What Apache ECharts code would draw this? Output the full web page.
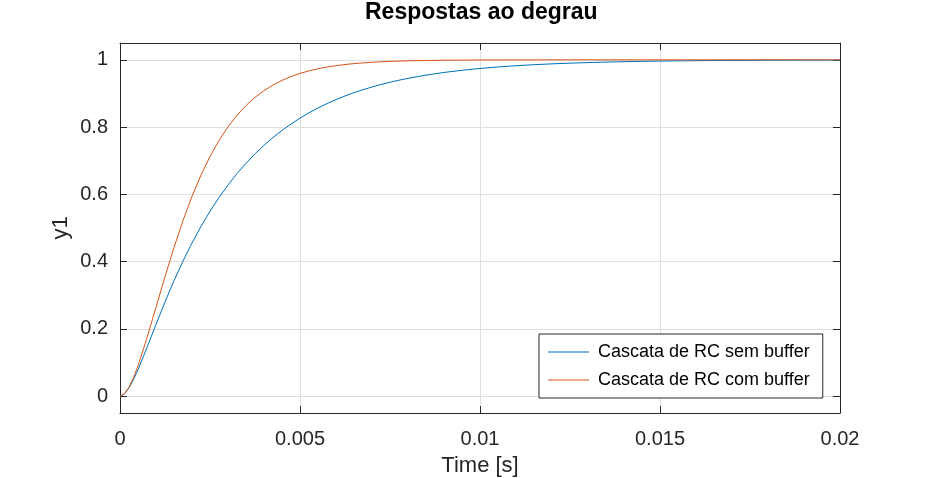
<!DOCTYPE html>
<html>
<head>
<meta charset="utf-8">
<script src="https://cdn.jsdelivr.net/npm/echarts@6/dist/echarts.min.js"></script>
<style>
html,body{margin:0;padding:0;background:#fff;}
#chart{width:928px;height:478px;}
</style>
</head>
<body>
<div id="chart"></div>
<script>
// Time samples [s]
const time = [0, 0.000125, 0.00025, 0.000375, 0.0005, 0.00075, 0.001, 0.00125, 0.0015, 0.00175, 0.002, 0.00225, 0.0025, 0.00275,
  0.003, 0.00325, 0.0035, 0.00375, 0.004, 0.00425, 0.0045, 0.00475, 0.005, 0.00525, 0.0055, 0.00575,
  0.006, 0.00625, 0.0065, 0.00675, 0.007, 0.00725, 0.0075, 0.00775, 0.008,
  0.0085, 0.009, 0.0095, 0.010, 0.0105, 0.011, 0.0115, 0.012, 0.0125, 0.013, 0.0135, 0.014,
  0.0145, 0.015, 0.0155, 0.016, 0.0165, 0.017, 0.0175, 0.018, 0.0185, 0.019, 0.0195, 0.020];
// Cascata de RC sem buffer
const semBuffer = [0, 0.0069, 0.0246, 0.0494, 0.0789, 0.1448, 0.2134, 0.2802, 0.3432, 0.4018, 0.4555, 0.5048, 0.5497, 0.5906,
  0.6279, 0.6617, 0.6925, 0.7205, 0.7460, 0.7691, 0.7901, 0.8092, 0.8266, 0.8424, 0.8568, 0.8698,
  0.8817, 0.8925, 0.9022, 0.9112, 0.9192, 0.9266, 0.9333, 0.9394, 0.9449,
  0.9545, 0.9624, 0.9689, 0.9743, 0.9788, 0.9825, 0.9855, 0.9880, 0.9901, 0.9918, 0.9933, 0.9944,
  0.9954, 0.9962, 0.9969, 0.9974, 0.9979, 0.9982, 0.9985, 0.9988, 0.9990, 0.9992, 0.9993, 0.9994];
// Cascata de RC com buffer
const comBuffer = [0, 0.0072, 0.0265, 0.0550, 0.0902, 0.1734, 0.2642, 0.3554, 0.4422, 0.5221, 0.5940, 0.6574, 0.7127, 0.7603,
  0.8009, 0.8352, 0.8641, 0.8883, 0.9084, 0.9251, 0.9389, 0.9502, 0.9596, 0.9672, 0.9734, 0.9785,
  0.9826, 0.9860, 0.9887, 0.9909, 0.9927, 0.9941, 0.9953, 0.9962, 0.9970,
  0.9981, 0.9988, 0.9992, 0.9995, 0.9997, 0.9998, 0.9999, 0.9999, 1.0, 1.0, 1.0, 1.0,
  1.0, 1.0, 1.0, 1.0, 1.0, 1.0, 1.0, 1.0, 1.0, 1.0, 1.0, 1.0];
const xTicks = [0, 0.005, 0.01, 0.015, 0.02];
const yTicks = [0, 0.2, 0.4, 0.6, 0.8, 1];
const seriesNames = ['Cascata de RC sem buffer', 'Cascata de RC com buffer'];

const FONT = 'Liberation Sans, Arial, Helvetica, sans-serif';
const TXT = '#262626';
const GRID = '#dfdfdf';

const chart = echarts.init(document.getElementById('chart'), null, {renderer: 'canvas'});

function fmt(v) {
  const r = Math.round(v * 100000) / 100000;
  return String(r);
}

const xBase = {
  type: 'value', min: xTicks[0], max: xTicks[xTicks.length - 1], interval: 0.005,
  axisLine: {show: true, onZero: false, lineStyle: {color: TXT, width: 1}},
  axisTick: {show: true, inside: true, length: 7, lineStyle: {color: TXT}},
};
const yBase = {
  type: 'value', min: -0.05, max: 1.05, splitNumber: 5,
  axisLine: {show: true, onZero: false, lineStyle: {color: TXT, width: 1}},
  axisTick: {show: true, inside: true, length: 7, lineStyle: {color: TXT}},
};

chart.setOption({
  animation: false,
  backgroundColor: '#fff',
  title: {
    text: 'Respostas ao degrau',
    left: 365, top: 1, padding: 0,
    textStyle: {fontFamily: FONT, fontSize: 23, fontWeight: 'bold', color: '#000'}
  },
  grid: {left: 120, right: 88, top: 43, bottom: 65, containLabel: false, outerBoundsMode: 'none'},
  legend: {
    orient: 'vertical', left: 539, top: 334,
    padding: [9, 13, 9, 9], itemGap: 10, itemWidth: 41, itemHeight: 1,
    icon: 'rect',
    backgroundColor: '#fff', borderColor: TXT, borderWidth: 1, borderRadius: 0,
    textStyle: {fontFamily: FONT, fontSize: 18, color: '#000', padding: [0, 0, 0, 4], lineHeight: 18},
    data: seriesNames
  },
  xAxis: [
    Object.assign({}, xBase, {
      position: 'bottom',
      name: 'Time [s]', nameLocation: 'middle', nameGap: 42, nameMoveOverlap: false,
      nameTextStyle: {fontFamily: FONT, fontSize: 22, color: TXT},
      axisLabel: {fontFamily: FONT, fontSize: 20, color: TXT, margin: 16, formatter: fmt},
      splitLine: {show: true, lineStyle: {color: GRID, width: 1}}
    }),
    Object.assign({}, xBase, {
      position: 'top', axisLabel: {show: false}, splitLine: {show: false}
    })
  ],
  yAxis: [
    Object.assign({}, yBase, {
      position: 'left',
      name: 'y1', nameLocation: 'middle', nameGap: 48, nameMoveOverlap: false,
      nameTextStyle: {fontFamily: FONT, fontSize: 22, color: TXT},
      axisLabel: {fontFamily: FONT, fontSize: 20, color: TXT, margin: 12,
        showMinLabel: false, showMaxLabel: false,
        formatter: function (v) { return yTicks.some(t => Math.abs(t - v) < 1e-9) ? fmt(v) : ''; }},
      splitLine: {show: true, lineStyle: {color: GRID, width: 1}}
    }),
    Object.assign({}, yBase, {
      position: 'right', axisLabel: {show: false}, splitLine: {show: false}
    })
  ],
  series: [
    {
      name: seriesNames[0], type: 'line', xAxisIndex: 0, yAxisIndex: 0,
      data: time.map((t, i) => [t, semBuffer[i]]),
      showSymbol: false, symbol: 'none',
      lineStyle: {color: '#0072BD', width: 1}, itemStyle: {color: '#0072BD'}, z: 3
    },
    {
      name: seriesNames[1], type: 'line', xAxisIndex: 0, yAxisIndex: 0,
      data: time.map((t, i) => [t, comBuffer[i]]),
      showSymbol: false, symbol: 'none',
      lineStyle: {color: '#D95319', width: 1}, itemStyle: {color: '#D95319'}, z: 4
    }
  ]
});
</script>
</body>
</html>
